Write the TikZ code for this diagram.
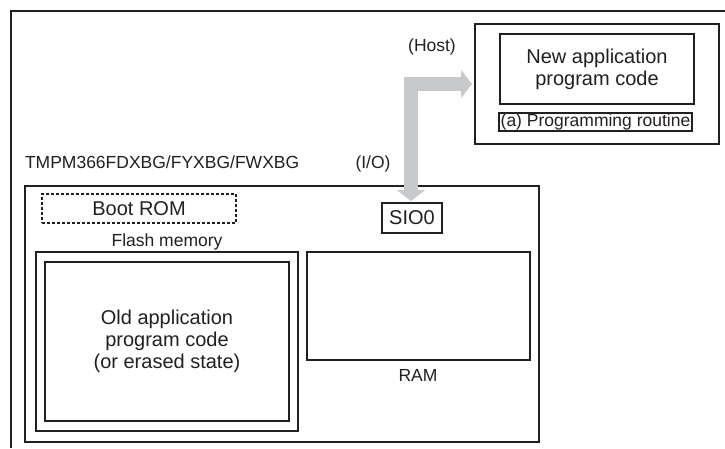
\documentclass[tikz,border=0pt]{standalone}
\usepackage{fontspec}
\setmainfont{Liberation Sans}
\usetikzlibrary{arrows.meta}
\definecolor{ink}{RGB}{35,31,32}
\definecolor{arrowgray}{RGB}{200,201,203}
\tikzset{
  box/.style={draw=ink, line width=1.5pt, inner sep=0pt, outer sep=0pt, align=center, text=ink},
  bigtext/.style={font=\fontsize{20}{21.8}\selectfont},
  smalltext/.style={font=\fontsize{17.5}{20}\selectfont},
  lbl/.style={inner sep=0pt, outer sep=0pt, text=ink, smalltext},
}
\begin{document}
\begin{tikzpicture}[x=1pt,y=-1pt]
\useasboundingbox (0,0) rectangle (725,448);
% outer frame (clipped by page)
\draw[ink, line width=1.5pt] (11,448) -- (11,11) -- (725,11);

% host side
\node[box, minimum width=244pt, minimum height=120pt] (host) at (597,84) {};
\node[box, bigtext, minimum width=194pt, minimum height=70pt] (newapp) at (597,69) {New application\\program code};
\node[box, smalltext, minimum width=193pt, minimum height=18pt, line width=1.2pt] (prog) at (595.5,122) {(a) Programming routine};
\node[lbl, anchor=base] (hostlbl) at (432,51) {(Host)};

% chip
\node[lbl, anchor=base west] (chiplbl) at (25,168) {TMPM366FDXBG/FYXBG/FWXBG};
\node[lbl, anchor=base] (iolbl) at (373,168) {(I/O)};
\node[box, minimum width=514pt, minimum height=256pt] (chip) at (282,314) {};
\node[box, bigtext, dash pattern=on 3pt off 2pt, line width=1.3pt, minimum width=194pt, minimum height=29pt] (boot) at (139,208.5) {Boot ROM};
\node[lbl, anchor=base] (flashlbl) at (167,246) {Flash memory};
\node[box, minimum width=262pt, minimum height=179pt] (flash) at (167,341.5) {};
\node[box, bigtext, minimum width=244pt, minimum height=159pt] (oldapp) at (167,341.5) {Old application\\program code\\(or erased state)};
\node[box, minimum width=223pt, minimum height=108pt] (ram) at (418.5,306) {};
\node[lbl, anchor=base] (ramlbl) at (418,381) {RAM};
\node[box, bigtext, minimum width=60pt, minimum height=30pt] (sio) at (412,218) {SIO0};

% transfer arrow
\draw[arrowgray, line width=14pt,
      {Triangle[length=11pt,width=28pt]}-{Triangle[length=11pt,width=28pt]}]
  ([xshift=-1pt,yshift=2pt]sio.north) |- ([xshift=-3pt]host.west);
\end{tikzpicture}
\end{document}
